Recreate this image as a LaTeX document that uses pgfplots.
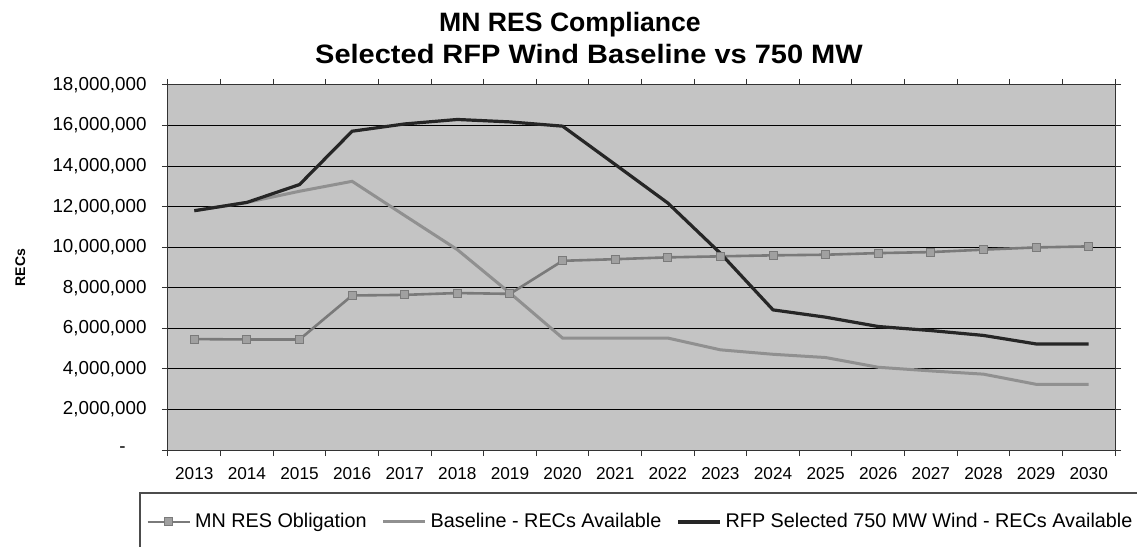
\documentclass[border=0pt]{standalone}
\usepackage{pgfplots}
\pgfplotsset{compat=1.18}
\usepackage{graphicx}
\usepackage{fontspec}
\setmainfont{Liberation Sans}
\definecolor{plotbg}{HTML}{C4C4C4}
\definecolor{rfpc}{HTML}{262626}
\definecolor{basec}{HTML}{909090}
\definecolor{oblc}{HTML}{7A7A7A}
\definecolor{oblm}{HTML}{A0A0A0}
\begin{document}
\begin{tikzpicture}
\useasboundingbox (0,0) rectangle (568.5pt,273.5pt);
\node[font=\bfseries\fontsize{13.3}{15}\selectfont, anchor=base, inner sep=0pt] at (285pt,257.7pt) {MN RES Compliance};
\node[font=\bfseries\fontsize{13.3}{15}\selectfont, anchor=base, inner sep=0pt] at (294.5pt,241.8pt) {\scalebox{1.09}[1]{Selected RFP Wind Baseline vs 750 MW}};
\begin{axis}[
  at={(84pt,48.5pt)}, anchor=south west,
  scale only axis, width=473.5pt, height=182.5pt,
  xmin=-0.5, xmax=17.5, ymin=0, ymax=18000000,
  axis background/.style={fill=plotbg},
  axis line style={draw=black!80, line width=0.5pt},
  /pgf/number format/assume math mode=true,
  tick align=outside, major tick length=3pt,
  tick style={draw=black!80, line width=0.5pt},
  xtick={-0.5,0.5,...,17.5}, xticklabels={},
  extra x ticks={0,1,...,17},
  extra x tick labels={2013,2014,2015,2016,2017,2018,2019,2020,2021,2022,2023,2024,2025,2026,2027,2028,2029,2030},
  extra x tick style={major tick length=0pt, grid=none, xticklabel style={font=\fontsize{8.6}{10}\selectfont, anchor=base, yshift=-14.5pt, inner sep=0pt}},
  ytick={0,2000000,...,18000000},
  yticklabels={{-\hphantom{00}},{2,000,000},{4,000,000},{6,000,000},{8,000,000},{10,000,000},{12,000,000},{14,000,000},{16,000,000},{18,000,000}},
  yticklabel style={font=\fontsize{9.4}{11}\selectfont, anchor=east, inner sep=0pt, xshift=-7.5pt},
  scaled y ticks=false,
  ymajorgrids, grid style={draw=black, line width=0.5pt},
  ylabel={RECs},
  ylabel style={font=\bfseries\fontsize{7}{8}\selectfont, at={(axis description cs:-0.156,0.5)}, anchor=center},
  legend columns=3,
  legend style={draw=none, fill=none, at={(axis description cs:-0.0232,-0.197)}, anchor=west, inner sep=0pt,
    font=\fontsize{9.9}{11}\selectfont, /tikz/every even column/.append style={column sep=5.5pt}},
  legend cell align=left,
  legend image code/.code={\draw[mark repeat=2, mark phase=2, #1] plot coordinates {(0pt,0pt) (10.5pt,0pt) (21pt,0pt)};},
]
\addplot[color=oblc, line width=1.3pt, mark=square*, mark size=2pt, mark options={fill=oblm, draw=oblc, line width=0.5pt}] coordinates {
(0,5470000) (1,5450000) (2,5450000) (3,7620000) (4,7650000) (5,7740000) (6,7700000) (7,9330000) (8,9410000) (9,9500000) (10,9550000) (11,9600000) (12,9630000) (13,9710000) (14,9760000) (15,9880000) (16,9990000) (17,10040000)};
\addlegendentry{MN RES Obligation}
\addplot[color=basec, line width=1.5pt] coordinates {
(0,11800000) (1,12210000) (2,12760000) (3,13250000) (4,11560000) (5,9880000) (6,7740000) (7,5520000) (8,5520000) (9,5520000) (10,4940000) (11,4720000) (12,4560000) (13,4080000) (14,3900000) (15,3740000) (16,3240000) (17,3240000)};
\addlegendentry{Baseline - RECs Available}
\addplot[color=rfpc, line width=1.6pt] coordinates {
(0,11800000) (1,12210000) (2,13090000) (3,15720000) (4,16080000) (5,16300000) (6,16180000) (7,15970000) (8,14080000) (9,12180000) (10,9700000) (11,6910000) (12,6550000) (13,6090000) (14,5890000) (15,5650000) (16,5230000) (17,5230000)};
\addlegendentry{RFP Selected 750 MW Wind - RECs Available}
\end{axis}
\draw[black!70, line width=0.6pt] (70pt,-5pt) rectangle (600pt,27pt);
\end{tikzpicture}
\end{document}
